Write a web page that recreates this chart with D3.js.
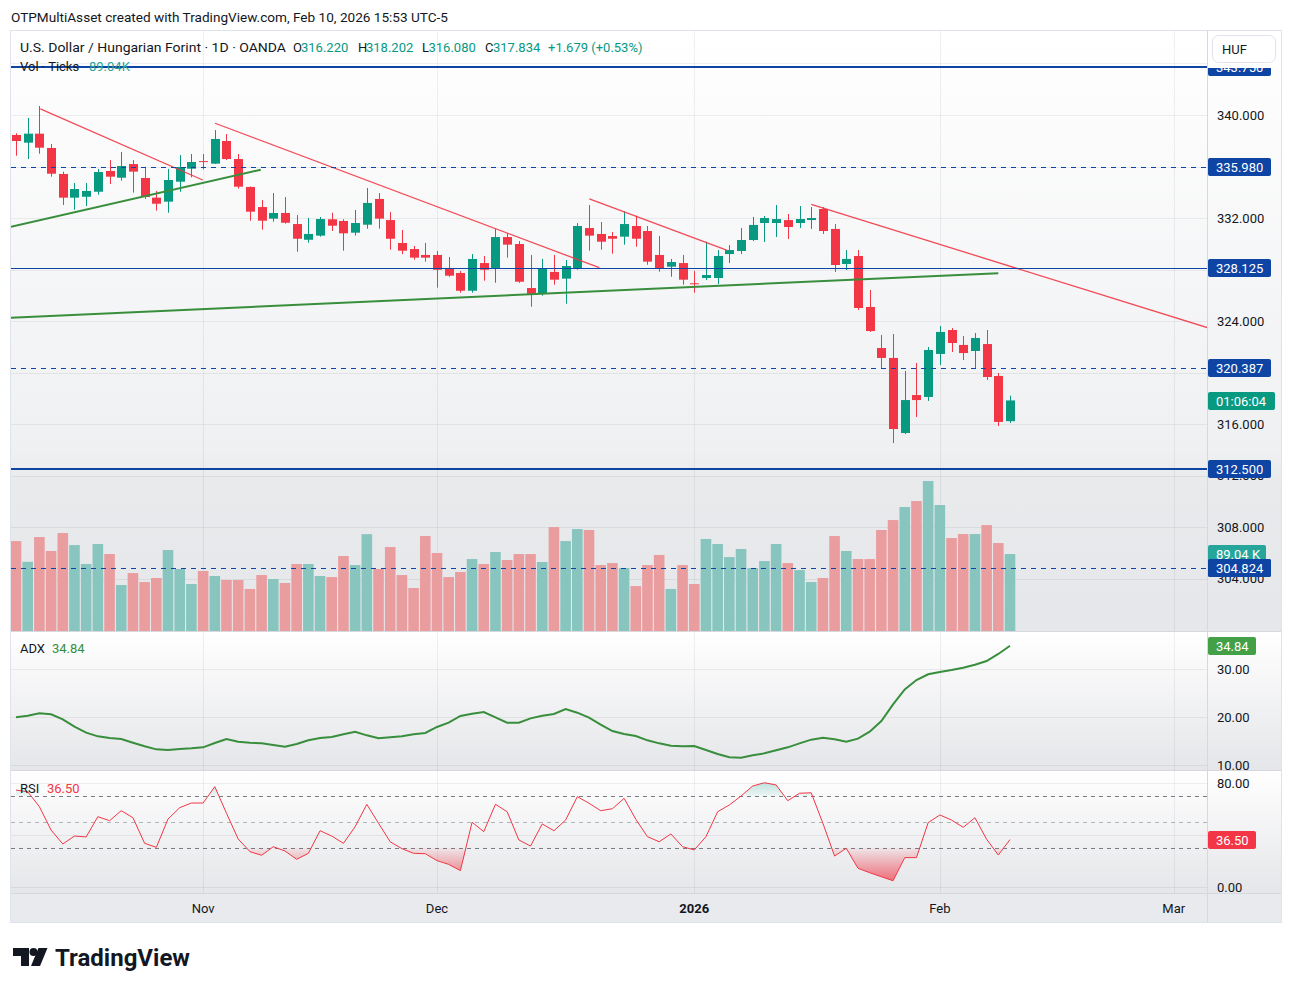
<!DOCTYPE html>
<html lang="en">
<head>
<meta charset="utf-8">
<title>USD/HUF 1D</title>
<script src="https://cdn.jsdelivr.net/npm/d3@7"></script>
<style>
  body { margin: 0; background: #fff; }
  svg { display: block; font-family: Roboto, "Liberation Sans", Arial, sans-serif; }
</style>
</head>
<body>
<script>
// ---- data ----
var dates = ["2025-10-10","2025-10-13","2025-10-14","2025-10-15","2025-10-16","2025-10-17","2025-10-20","2025-10-21","2025-10-22","2025-10-23",
  "2025-10-24","2025-10-27","2025-10-28","2025-10-29","2025-10-30","2025-10-31","2025-11-03","2025-11-04","2025-11-05","2025-11-06",
  "2025-11-07","2025-11-10","2025-11-11","2025-11-12","2025-11-13","2025-11-14","2025-11-17","2025-11-18","2025-11-19","2025-11-20",
  "2025-11-21","2025-11-24","2025-11-25","2025-11-26","2025-11-27","2025-11-28","2025-12-01","2025-12-02","2025-12-03","2025-12-04",
  "2025-12-05","2025-12-08","2025-12-09","2025-12-10","2025-12-11","2025-12-12","2025-12-15","2025-12-16","2025-12-17","2025-12-18",
  "2025-12-19","2025-12-22","2025-12-23","2025-12-24","2025-12-26","2025-12-29","2025-12-30","2025-12-31","2026-01-02","2026-01-05",
  "2026-01-06","2026-01-07","2026-01-08","2026-01-09","2026-01-12","2026-01-13","2026-01-14","2026-01-15","2026-01-16","2026-01-19",
  "2026-01-20","2026-01-21","2026-01-22","2026-01-23","2026-01-26","2026-01-27","2026-01-28","2026-01-29","2026-01-30","2026-02-02",
  "2026-02-03","2026-02-04","2026-02-05","2026-02-06","2026-02-09","2026-02-10"];

var openP = [338.45,337.85,338.55,337.44,335.42,333.58,333.65,334.04,335.65,335.13,
  336.19,335.11,333.58,333.27,334.82,335.83,336.42,336.22,337.98,336.58,
  334.41,332.85,331.95,332.39,331.53,330.31,330.63,331.90,331.77,330.86,
  331.48,333.48,331.84,330.06,329.59,329.13,329.13,328.12,327.73,326.35,
  328.50,328.12,330.52,329.98,326.56,326.12,327.81,327.29,328.06,331.22,
  330.76,330.60,330.55,331.38,330.99,329.13,328.22,328.50,326.93,327.34,
  327.34,329.20,329.44,330.29,331.61,331.61,331.84,331.61,331.84,332.70,
  331.15,328.43,329.05,325.09,321.90,321.13,315.30,318.25,318.10,321.44,
  323.30,322.14,321.67,322.21,319.73,316.22];
var highP = [338.58,339.77,340.70,337.75,335.60,334.72,334.72,335.81,336.50,337.13,
  336.50,335.98,334.10,335.81,336.89,336.97,336.97,338.83,338.52,336.97,
  334.45,333.40,333.94,333.63,332.23,332.00,332.08,332.41,331.90,332.62,
  334.33,333.94,332.47,331.07,329.83,330.06,329.44,328.97,327.88,329.20,
  329.05,331.15,330.83,330.21,329.13,328.82,329.13,328.74,331.61,333.01,
  331.69,330.91,332.52,332.18,331.38,330.60,328.82,329.13,327.88,330.16,
  329.51,329.90,331.22,332.08,332.16,333.01,332.31,332.93,332.85,332.85,
  331.53,329.51,329.51,326.41,322.91,322.99,320.12,320.74,321.98,323.61,
  323.46,322.83,323.07,323.30,319.96,318.20];
var lowP = [336.84,336.58,336.99,335.21,333.01,332.64,332.93,333.81,334.64,334.90,
  333.97,333.48,332.57,332.41,334.04,335.16,335.78,336.20,336.50,334.28,
  331.79,331.09,331.71,331.56,329.38,330.08,330.55,330.99,329.46,330.63,
  331.17,331.17,329.54,329.20,328.76,328.61,326.59,327.44,326.20,326.20,
  327.13,326.97,328.92,326.97,325.11,325.97,326.82,325.34,327.98,329.46,
  329.54,329.23,329.93,329.77,328.37,327.83,327.44,326.82,326.20,327.18,
  326.87,328.50,329.20,330.21,330.14,330.52,330.37,331.22,331.15,330.76,
  327.81,327.96,324.85,323.15,320.27,314.52,315.22,316.54,317.79,320.58,
  321.59,320.97,320.35,319.42,315.84,316.08];
var closeP = [337.98,338.55,337.46,335.44,333.58,334.25,334.10,335.57,335.21,336.04,
  335.60,333.63,333.11,334.95,335.96,336.35,336.38,338.14,336.58,334.43,
  332.49,331.79,332.39,331.63,330.39,330.76,331.92,331.40,330.81,331.61,
  333.17,331.95,330.39,329.46,328.92,328.92,327.98,327.52,326.35,328.82,
  327.98,330.52,329.93,327.05,326.04,328.06,327.21,328.27,331.38,330.63,
  330.16,330.39,331.53,330.39,328.61,328.06,328.58,327.21,326.89,327.57,
  329.05,329.51,330.29,331.46,332.00,331.92,331.30,331.92,332.00,330.99,
  328.35,328.82,325.01,323.22,321.13,315.61,317.86,317.86,321.75,323.15,
  322.29,321.51,322.68,319.65,316.16,317.83];
// volume in thousands of ticks
var volumeK = [104.0,80.0,108.7,92.5,113.3,99.4,77.5,100.6,89.0,53.2,
  67.0,56.6,61.3,93.6,71.7,54.3,69.4,63.6,59.0,59.0,
  48.6,64.7,60.1,55.5,77.5,77.5,63.6,62.4,86.7,76.3,
  112.0,71.7,97.1,64.7,49.7,109.8,90.2,62.4,68.2,83.2,
  77.5,91.3,82.1,89.0,89.0,79.8,120.2,104.0,117.9,116.8,
  76.3,78.6,72.8,52.0,76.3,87.9,48.6,76.3,54.3,106.4,
  100.6,85.5,94.8,72.8,80.9,100.6,78.6,70.5,56.6,61.3,
  109.8,92.5,83.2,83.2,116.8,128.3,143.4,150.3,173.4,145.7,
  107.5,112.1,112.1,122.5,101.7,89.04];
var adx = [19.93,20.28,20.76,20.56,19.51,17.99,16.74,15.97,15.63,15.42,
  14.65,13.89,13.26,13.13,13.33,13.47,13.68,14.58,15.42,14.86,
  14.65,14.51,14.17,13.82,14.38,15.14,15.63,15.83,16.39,16.94,
  16.18,15.56,15.76,15.97,16.39,16.67,17.92,18.82,20.21,20.69,
  21.04,19.93,18.82,18.82,19.72,20.28,20.63,21.67,20.90,19.86,
  18.40,17.08,16.46,16.04,15.14,14.51,14.03,13.89,13.96,13.13,
  12.29,11.60,11.53,12.01,12.43,13.06,13.68,14.51,15.28,15.69,
  15.35,14.86,15.49,16.94,19.17,22.64,25.76,27.71,28.89,29.37,
  29.79,30.28,30.90,31.67,33.13,34.84];
var rsi = [74.6,73.3,61.8,43.8,33.1,39.2,38.5,54.1,51.0,58.7,
  53.3,33.6,30.5,52.3,61.0,64.6,64.6,77.2,56.7,36.9,
  27.2,24.4,31.0,27.7,21.3,25.9,43.3,39.2,33.6,46.4,
  63.6,49.0,34.8,29.5,25.9,25.6,20.3,17.4,12.6,49.8,
  42.6,63.6,57.9,36.2,31.5,48.5,43.3,51.5,69.5,64.4,
  58.7,60.2,68.2,52.1,38.7,34.8,40.8,31.0,28.5,38.7,
  57.9,63.1,70.0,77.7,80.2,78.5,66.4,72.1,72.5,49.0,
  23.8,29.8,14.4,11.0,7.9,4.8,22.6,22.6,49.5,55.4,
  51.5,45.9,53.3,36.7,24.6,36.5];

var priceTicks = [344, 340, 336, 332, 328, 324, 320, 316, 312, 308, 304];
var adxTicks = [10, 20, 30];
var rsiTicks = [0, 40, 80];
var rsiBands = [70, 50, 30];
var levels = [343.75, 335.98, 328.125, 320.387, 312.5, 304.824];
var levelDashed = [false, true, false, true, false, true];
var levelThick = [true, false, false, false, true, false];
// trend lines as [bar index, price] anchors
var redLines = [[[2.08, 340.47], [15.97, 334.95]],
                [[17.02, 339.36], [49.88, 328.14]],
                [[49.03, 333.48], [60.77, 329.51]],
                [[68.0, 333.06], [102.0, 323.45]]];
var greenLines = [[[-0.43, 331.32], [20.93, 335.75]],
                  [[-0.43, 324.26], [84.0, 327.71]]];
var monthTickDates = ["2025-11-03", "2025-12-01", "2026-01-02", "2026-02-02", "2026-03-02"];
var monthTickLabels = ["Nov", "Dec", "2026", "Feb", "Mar"];

// ---- layout ----
var W = 1292, H = 992;
var plotL = 11, plotR = 1207, frameR = 1281;
var mainT = 30, mainB = 631, adxB = 770, rsiB = 893, axisB = 922;
var upC = "#089981", downC = "#f23645", levelC = "#0e44a3", textC = "#131722";

// bar index of a date, counting weekdays past the last bar for future dates
function barIndex(ds) {
  var k = dates.indexOf(ds);
  if (k >= 0) return k;
  var d = new Date(dates[dates.length - 1] + "T00:00:00Z"), end = new Date(ds + "T00:00:00Z"), n = dates.length - 1;
  while (d < end) {
    d.setUTCDate(d.getUTCDate() + 1);
    var w = d.getUTCDay();
    if (w > 0 && w < 6) n++;
  }
  return n;
}

var x = d3.scaleLinear().domain([0, 85]).range([16, 1010]);
var y = d3.scaleLinear().domain([340, 316]).range([115, 424]);
var yVol = d3.scaleLinear().domain([0, 89.04]).range([631, 554]);
var yAdx = d3.scaleLinear().domain([10, 30]).range([765, 669]);
var yRsi = d3.scaleLinear().domain([0, 80]).range([887, 783]);

var svg = d3.select("body").append("svg").attr("width", W).attr("height", H);
var defs = svg.append("defs");

function grad(id, y1, y2, stops) {
  var g = defs.append("linearGradient").attr("id", id)
    .attr("gradientUnits", "userSpaceOnUse")
    .attr("x1", 0).attr("x2", 0).attr("y1", y1).attr("y2", y2);
  stops.forEach(function(s) {
    g.append("stop").attr("offset", s[0]).attr("stop-color", s[1]).attr("stop-opacity", s[2] == null ? 1 : s[2]);
  });
}
function clip(id, x0, y0, w, h) {
  defs.append("clipPath").attr("id", id).append("rect").attr("x", x0).attr("y", y0).attr("width", w).attr("height", h);
}

grad("bgMain", mainT, mainB, [[0, "#ffffff"], [0.7, "#eff0f2"], [0.75, "#e9eaec"], [1, "#e6e7ea"]]);
grad("bgAdx", mainB, adxB, [[0, "#ffffff"], [1, "#e5e6e9"]]);
grad("bgRsi", adxB, rsiB, [[0, "#ffffff"], [1, "#e5e6e9"]]);
grad("osFill", yRsi(30), yRsi(0), [[0, downC, 0.05], [1, downC, 0.8]]);
grad("obFill", yRsi(70), yRsi(90), [[0, upC, 0.05], [1, upC, 0.45]]);
clip("clipMain", plotL, mainT, plotR - plotL, mainB - mainT);
clip("clipAdx", plotL, mainB, plotR - plotL, adxB - mainB);
clip("clipRsi", plotL, adxB, plotR - plotL, rsiB - adxB);
clip("clipAdxAxis", plotR, mainB + 1, frameR - plotR, adxB - mainB - 1);
clip("clipRsiAxis", plotR, adxB + 1, frameR - plotR, rsiB - adxB - 1);

// header line above the chart
svg.append("text").attr("x", 11).attr("y", 22).attr("font-size", 13).attr("fill", textC)
  .attr("textLength", 437).attr("lengthAdjust", "spacingAndGlyphs")
  .text("OTPMultiAsset created with TradingView.com, Feb 10, 2026 15:53 UTC-5");

// pane backgrounds
svg.append("rect").attr("x", plotL).attr("y", mainT).attr("width", frameR - plotL).attr("height", mainB - mainT).attr("fill", "url(#bgMain)");
svg.append("rect").attr("x", plotL).attr("y", mainB).attr("width", frameR - plotL).attr("height", adxB - mainB).attr("fill", "url(#bgAdx)");
svg.append("rect").attr("x", plotL).attr("y", adxB).attr("width", frameR - plotL).attr("height", rsiB - adxB).attr("fill", "url(#bgRsi)");
svg.append("rect").attr("x", plotL).attr("y", rsiB).attr("width", frameR - plotL).attr("height", axisB - rsiB).attr("fill", "#e9eaed");

// grid
var grid = svg.append("g").attr("stroke", "rgba(42,46,57,0.07)").attr("stroke-width", 1);
grid.selectAll("line.gp").data(priceTicks).join("line").attr("class", "gp")
  .attr("x1", plotL).attr("x2", plotR).attr("y1", function(d) { return Math.round(y(d)) + 0.5; }).attr("y2", function(d) { return Math.round(y(d)) + 0.5; });
grid.selectAll("line.ga").data(adxTicks).join("line").attr("class", "ga")
  .attr("x1", plotL).attr("x2", plotR).attr("y1", function(d) { return Math.round(yAdx(d)) + 0.5; }).attr("y2", function(d) { return Math.round(yAdx(d)) + 0.5; });
grid.selectAll("line.gr").data(rsiTicks).join("line").attr("class", "gr")
  .attr("x1", plotL).attr("x2", plotR).attr("y1", function(d) { return Math.round(yRsi(d)) + 0.5; }).attr("y2", function(d) { return Math.round(yRsi(d)) + 0.5; });
grid.selectAll("line.gv").data(monthTickDates).join("line").attr("class", "gv")
  .attr("x1", function(d) { return Math.round(x(barIndex(d))) + 0.5; })
  .attr("x2", function(d) { return Math.round(x(barIndex(d))) + 0.5; })
  .attr("y1", mainT).attr("y2", rsiB);

var idx = d3.range(dates.length);
function isUp(i) { return closeP[i] >= openP[i]; }

// volume
var main = svg.append("g").attr("clip-path", "url(#clipMain)");
main.selectAll("rect.vol").data(idx).join("rect").attr("class", "vol")
  .attr("x", function(i) { return x(i) - 5.3; })
  .attr("width", 10.6)
  .attr("y", function(i) { return yVol(volumeK[i]); })
  .attr("height", function(i) { return yVol(0) - yVol(volumeK[i]); })
  .attr("fill", function(i) { return isUp(i) ? "#88c5bf" : "#ea9d9f"; });

// candles
main.selectAll("line.wick").data(idx).join("line").attr("class", "wick")
  .attr("x1", function(i) { return Math.round(x(i)) + 0.5; })
  .attr("x2", function(i) { return Math.round(x(i)) + 0.5; })
  .attr("y1", function(i) { return y(highP[i]); })
  .attr("y2", function(i) { return y(lowP[i]); })
  .attr("stroke", function(i) { return isUp(i) ? upC : downC; })
  .attr("stroke-width", 1);
main.selectAll("rect.body").data(idx).join("rect").attr("class", "body")
  .attr("x", function(i) { return Math.round(x(i)) - 4; })
  .attr("width", 9)
  .attr("y", function(i) { return y(Math.max(openP[i], closeP[i])); })
  .attr("height", function(i) { return Math.max(1, Math.abs(y(openP[i]) - y(closeP[i]))); })
  .attr("fill", function(i) { return isUp(i) ? upC : downC; });

// trend lines
var lineXY = d3.line().x(function(p) { return x(p[0]); }).y(function(p) { return y(p[1]); });
main.selectAll("path.red").data(redLines).join("path").attr("class", "red")
  .attr("d", lineXY).attr("fill", "none").attr("stroke", "#f23645").attr("stroke-width", 1.3).attr("stroke-opacity", 0.9);
main.selectAll("path.green").data(greenLines).join("path").attr("class", "green")
  .attr("d", lineXY).attr("fill", "none").attr("stroke", "#388e3c").attr("stroke-width", 2);

// legend of main pane
var leg = svg.append("text").attr("y", 52).attr("font-size", 13).attr("fill", textC);
leg.append("tspan").attr("x", 20).attr("textLength", 266).attr("lengthAdjust", "spacingAndGlyphs")
  .text("U.S. Dollar / Hungarian Forint \u00b7 1D \u00b7 OANDA");
[["O", 293, textC], ["316.220", 301, upC],
 ["H", 358, textC], ["318.202", 366, upC],
 ["L", 422, textC], ["316.080", 428.5, upC],
 ["C", 485, textC], ["317.834", 493, upC],
 ["+1.679 (+0.53%)", 548, upC]].forEach(function(s) {
  leg.append("tspan").attr("x", s[1]).attr("fill", s[2]).text(s[0]);
});
var vleg = svg.append("text").attr("y", 71).attr("font-size", 13).attr("fill", textC);
vleg.append("tspan").attr("x", 20).text("Vol \u00b7 Ticks");
vleg.append("tspan").attr("x", 89).attr("fill", "#26a69a").text("89.04K");

// horizontal levels
main.selectAll("line.lvl").data(levels).join("line").attr("class", "lvl")
  .attr("x1", plotL).attr("x2", plotR)
  .attr("y1", function(d, i) { return Math.round(y(d)) + (levelThick[i] ? 0 : 0.5); })
  .attr("y2", function(d, i) { return Math.round(y(d)) + (levelThick[i] ? 0 : 0.5); })
  .attr("stroke", levelC)
  .attr("stroke-width", function(d, i) { return levelThick[i] ? 2 : 1; })
  .attr("stroke-dasharray", function(d, i) { return levelDashed[i] ? "5,5" : null; });

// ADX pane
var adxG = svg.append("g").attr("clip-path", "url(#clipAdx)");
adxG.append("path").datum(adx)
  .attr("d", d3.line().x(function(d, i) { return x(i); }).y(function(d) { return yAdx(d); }))
  .attr("fill", "none").attr("stroke", "#388e3c").attr("stroke-width", 2);
var aleg = svg.append("text").attr("y", 653).attr("font-size", 13).attr("fill", textC);
aleg.append("tspan").attr("x", 20).text("ADX");
aleg.append("tspan").attr("x", 52).attr("fill", "#388e3c").text("34.84");

// RSI pane
var rsiG = svg.append("g").attr("clip-path", "url(#clipRsi)");
rsiG.selectAll("line.band").data(rsiBands).join("line").attr("class", "band")
  .attr("x1", plotL).attr("x2", plotR)
  .attr("y1", function(d) { return Math.round(yRsi(d)) + 0.5; })
  .attr("y2", function(d) { return Math.round(yRsi(d)) + 0.5; })
  .attr("stroke", function(d) { return d === 50 ? "rgba(120,123,134,0.55)" : "#787b86"; })
  .attr("stroke-dasharray", "4,4");

function withCrossings(level) {
  var pts = [];
  rsi.forEach(function(v, i) {
    if (i > 0) {
      var a = rsi[i - 1];
      if ((a - level) * (v - level) < 0) pts.push([i - 1 + (level - a) / (v - a), level]);
    }
    pts.push([i, v]);
  });
  return pts;
}
rsiG.append("path").datum(withCrossings(30))
  .attr("d", d3.area().x(function(p) { return x(p[0]); }).y0(yRsi(30)).y1(function(p) { return yRsi(Math.min(p[1], 30)); }))
  .attr("fill", "url(#osFill)");
rsiG.append("path").datum(withCrossings(70))
  .attr("d", d3.area().x(function(p) { return x(p[0]); }).y0(yRsi(70)).y1(function(p) { return yRsi(Math.max(p[1], 70)); }))
  .attr("fill", "url(#obFill)");
rsiG.append("path").datum(rsi)
  .attr("d", d3.line().x(function(d, i) { return x(i); }).y(function(d) { return yRsi(d); }))
  .attr("fill", "none").attr("stroke", "#f23645").attr("stroke-width", 1);
var rleg = svg.append("text").attr("y", 793).attr("font-size", 13).attr("fill", textC);
rleg.append("tspan").attr("x", 20).text("RSI");
rleg.append("tspan").attr("x", 47).attr("fill", "#f23645").text("36.50");

// separators and frame
var sep = svg.append("g").attr("stroke", "#d6d8de").attr("stroke-width", 1);
[mainB, adxB, rsiB].forEach(function(v) {
  sep.append("line").attr("x1", plotL).attr("x2", frameR).attr("y1", v + 0.5).attr("y2", v + 0.5);
});
sep.append("line").attr("x1", plotR + 0.5).attr("x2", plotR + 0.5).attr("y1", mainT).attr("y2", axisB);
svg.append("rect").attr("x", 10.5).attr("y", 30.5).attr("width", frameR - 10).attr("height", axisB - 30)
  .attr("fill", "none").attr("stroke", "#e0e3eb");

// right price axis (tick labels fully hidden behind a level label are skipped)
var fmt3 = d3.format(".3f"), fmt2 = d3.format(".2f");
var shownTicks = priceTicks.filter(function(t) {
  return levels.every(function(l) { return Math.abs(y(t) - y(l)) > 5.5; });
});
var axisTxt = svg.append("g").attr("font-size", 13).attr("fill", textC);
axisTxt.selectAll("text.pt").data(shownTicks).join("text").attr("class", "pt")
  .attr("x", 1217).attr("y", function(d) { return y(d) + 4.5; }).text(fmt3);
axisTxt.append("g").attr("clip-path", "url(#clipAdxAxis)")
  .selectAll("text").data(adxTicks).join("text")
  .attr("x", 1217).attr("y", function(d) { return yAdx(d) + 4.5; }).text(fmt2);
axisTxt.append("g").attr("clip-path", "url(#clipRsiAxis)")
  .selectAll("text").data(rsiTicks).join("text")
  .attr("x", 1217).attr("y", function(d) { return yRsi(d) + 4.5; }).text(fmt2);

function axisLabel(cy, w, bg, txt) {
  var g = svg.append("g");
  g.append("rect").attr("x", plotR + 1).attr("y", Math.round(cy) - 9).attr("width", w).attr("height", 18)
    .attr("rx", 2).attr("fill", bg);
  g.append("text").attr("x", 1216).attr("y", Math.round(cy) + 4.5).attr("font-size", 13)
    .attr("fill", "#fff").text(txt);
}
levels.forEach(function(d) { axisLabel(y(d), 63, levelC, fmt3(d)); });
axisLabel(y(closeP[85]) + 0.5, 67, upC, "01:06:04");
axisLabel(yVol(volumeK[85]), 58, "#26a69a", "89.04 K");
axisLabel(y(levels[5]), 63, levelC, fmt3(levels[5]));
axisLabel(yAdx(adx[85]), 48, "#43a047", fmt2(adx[85]));
axisLabel(yRsi(rsi[85]), 48, "#f23645", fmt2(rsi[85]));

// currency button area covers the top of the axis
svg.append("rect").attr("x", plotR + 1).attr("y", 31).attr("width", frameR - plotR - 1.5).attr("height", 37)
  .attr("fill", "#ffffff");
svg.append("rect").attr("x", 1212.5).attr("y", 35.5).attr("width", 63).attr("height", 27).attr("rx", 6)
  .attr("fill", "#ffffff").attr("stroke", "#e0e3eb");
svg.append("text").attr("x", 1234.5).attr("y", 54).attr("text-anchor", "middle").attr("font-size", 13)
  .attr("fill", textC).text("HUF");

// time axis
svg.append("g").selectAll("text").data(monthTickDates).join("text")
  .attr("x", function(d) { return x(barIndex(d)); })
  .attr("y", 912.5).attr("text-anchor", "middle").attr("font-size", 13).attr("fill", textC)
  .attr("font-weight", function(d, i) { return monthTickLabels[i] === "2026" ? "bold" : null; })
  .text(function(d, i) { return monthTickLabels[i]; });

// TradingView logo
var logo = svg.append("g").attr("fill", "#131722");
logo.append("path").attr("d", "M13,948H29V966H21V956H13Z");
logo.append("circle").attr("cx", 33.5).attr("cy", 952).attr("r", 4);
logo.append("path").attr("d", "M38.5,948H47.5L40,966H31Z");
logo.append("text").attr("x", 55).attr("y", 966).attr("font-size", 24).attr("font-weight", "bold")
  .attr("textLength", 135).attr("lengthAdjust", "spacingAndGlyphs").text("TradingView");
</script>
</body>
</html>
